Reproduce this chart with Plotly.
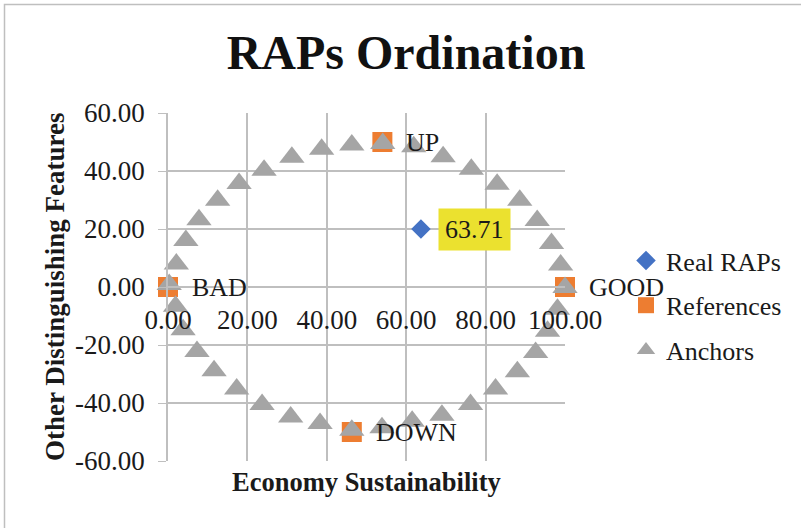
import plotly.graph_objects as go

# ---------------------------------------------------------------------------
# Data
# ---------------------------------------------------------------------------
real_x = [63.71]
real_y = [20.0]
real_labels = ['63.71']

ref_labels = ['BAD', 'GOOD', 'UP', 'DOWN']
ref_x = [0.0, 100.0, 54.0, 46.3]
ref_y = [0.0, 0.0, 50.0, -50.0]

anchor_x = [0.3, 2.1, 4.5, 7.8, 12.5, 17.9, 24.2, 31.2, 38.7, 46.3, 54.1,
            61.9, 69.3, 76.4, 82.9, 88.6, 93.0, 96.6, 98.9, 100.0,
            98.1, 95.6, 92.6, 88.0, 82.5, 76.2, 69.0, 61.5, 53.9, 46.3,
            38.3, 30.9, 23.7, 17.3, 11.6, 7.3, 3.8, 1.9]
anchor_y = [0.9, 7.9, 16.0, 23.2, 29.9, 35.7, 40.3, 44.7, 47.5, 49.0, 49.5,
            48.4, 44.9, 40.6, 35.4, 29.9, 22.9, 15.0, 7.6, -0.2,
            -7.7, -15.3, -22.6, -29.2, -35.2, -40.5, -44.2, -46.3, -48.5, -49.4,
            -47.1, -44.8, -40.5, -35.2, -28.9, -22.2, -14.7, -6.6]

x_ticks = [0, 20, 40, 60, 80, 100]
y_ticks = [-60, -40, -20, 0, 20, 40, 60]

FONT = 'Liberation Serif'
GRID = '#BFBFBF'
TXT = '#1a1a1a'

W, H = 801, 528
M = dict(l=168, r=236, t=113, b=67, autoexpand=False)
PW = W - M['l'] - M['r']
PH = H - M['t'] - M['b']

fig = go.Figure()

fig.add_trace(go.Scatter(
    x=real_x, y=real_y, mode='markers', name='Real RAPs',
    marker=dict(symbol='diamond', size=15, color='#4472C4'),
    legendgroup='a', cliponaxis=False,
))
fig.add_trace(go.Scatter(
    x=ref_x, y=ref_y, mode='markers', name='References',
    marker=dict(symbol='square', size=20, color='#ED7D31'),
    legendgroup='b', cliponaxis=False,
))
fig.add_trace(go.Scatter(
    x=anchor_x, y=anchor_y, mode='markers', name='Anchors',
    marker=dict(symbol='triangle-up', size=22, color='#A5A5A5'),
    legendgroup='c', cliponaxis=False,
))

# point labels
for lx, ly, txt in zip(ref_x, ref_y, ref_labels):
    fig.add_annotation(x=lx, y=ly, text=txt, showarrow=False,
                       xanchor='left', xshift=23, borderpad=0,
                       font=dict(family=FONT, size=26, color=TXT))
for lx, ly, txt in zip(real_x, real_y, real_labels):
    fig.add_annotation(x=lx, y=ly, text=txt, showarrow=False,
                       xanchor='left', xshift=17, bgcolor='#EBE12F',
                       borderpad=6,
                       font=dict(family=FONT, size=26, color=TXT))

# axis titles
fig.add_annotation(text='<b>Economy Sustainability</b>', xref='paper', yref='paper',
                   x=0.5, y=-(482 - M['t'] - PH) / PH, showarrow=False,
                   yanchor='middle',
                   font=dict(family=FONT, size=26.5, color=TXT))
fig.add_annotation(text='<b>Other Distinguishing Features</b>', xref='paper', yref='paper',
                   x=-(M['l'] - 55) / PW, y=0.5, showarrow=False, textangle=-90,
                   xanchor='center',
                   font=dict(family=FONT, size=27, color=TXT))

# outer chart frame
fig.add_shape(type='rect', xref='paper', yref='paper',
              x0=-(M['l'] - 4.5) / PW, x1=(W - M['l'] + 10) / PW,
              y0=-(M['b'] + 10) / PH, y1=(M['t'] - 4.5) / PH + 1,
              line=dict(color='#BFBFBF', width=1.5))

fig.update_layout(
    width=W, height=H,
    margin=M,
    paper_bgcolor='white', plot_bgcolor='white',
    font=dict(family=FONT, size=26, color=TXT),
    title=dict(text='<b>RAPs Ordination</b>', x=406 / W, xref='container',
               y=1 - 52 / H, yref='container', xanchor='center', yanchor='middle',
               font=dict(family=FONT, size=48, color='#111111')),
    xaxis=dict(
        range=[0, 100], tickvals=x_ticks,
        ticktext=[f'{v:.2f}' for v in x_ticks],
        showgrid=True, gridcolor=GRID, gridwidth=1.5,
        zeroline=False, showline=True, linecolor=GRID, linewidth=1.5,
        anchor='free', position=0.5, ticks='', ticklabelstandoff=9,
        automargin=False, tickfont=dict(size=27),
    ),
    yaxis=dict(
        range=[-60, 60], tickvals=y_ticks,
        ticktext=[f'{v:.2f}' for v in y_ticks],
        showgrid=True, gridcolor=GRID, gridwidth=1.5,
        zeroline=False, showline=True, linecolor=GRID, linewidth=1.5,
        ticks='outside', ticklen=8, tickcolor=GRID, ticklabelstandoff=8,
        automargin=False, tickfont=dict(size=27),
    ),
    legend=dict(
        x=(626 - M['l']) / PW, y=(286 - 236) / PH + 0.5, xanchor='left', yanchor='top',
        font=dict(family=FONT, size=26, color=TXT),
        tracegroupgap=8, itemwidth=30, bgcolor='rgba(0,0,0,0)',
    ),
    showlegend=True,
)

# browser default body margin would shift the figure by 8px
fig.write_html('out.html', config={'displayModeBar': False},
               post_script="document.body.style.margin='0';")
